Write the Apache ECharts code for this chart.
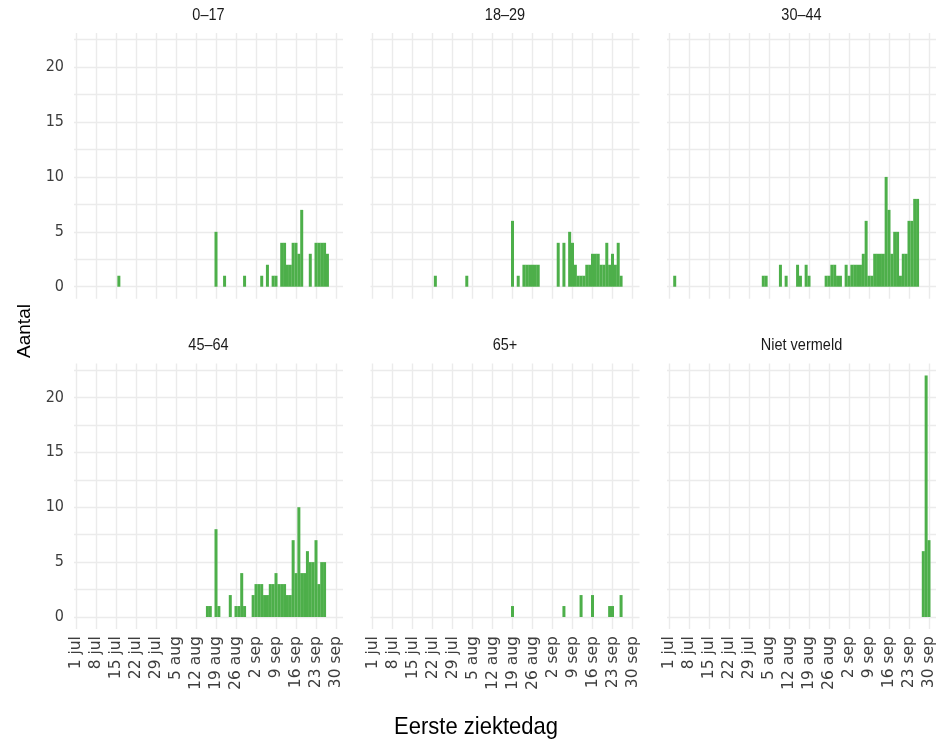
<!DOCTYPE html>
<html><head><meta charset="utf-8">
<script src="https://cdn.jsdelivr.net/npm/echarts@6/dist/echarts.min.js"></script>
<style>html,body{margin:0;padding:0;background:#fff}#c{width:939px;height:741px}</style>
</head><body><div id="c"></div>
<script>
// ---- data ----
const panelTitles = ['0–17', '18–29', '30–44', '45–64', '65+', 'Niet vermeld'];
const tickDates = ['07-01','07-08','07-15','07-22','07-29','08-05','08-12','08-19','08-26','09-02','09-09','09-16','09-23','09-30'];
const tickLabels = ['1 jul','8 jul','15 jul','22 jul','29 jul','5 aug','12 aug','19 aug','26 aug','2 sep','9 sep','16 sep','23 sep','30 sep'];
const yLabelValues = [0, 5, 10, 15, 20];
const yGridValues = [0, 2.5, 5, 7.5, 10, 12.5, 15, 17.5, 20, 22.5];

const s0_17 = [['07-16',1],['08-19',5],['08-22',1],['08-29',1],['09-04',1],['09-06',2],['09-08',1],['09-09',1],
  ['09-11',4],['09-12',4],['09-13',2],['09-14',2],['09-15',4],['09-16',4],['09-17',3],['09-18',7],
  ['09-21',3],['09-23',4],['09-24',4],['09-25',4],['09-26',4],['09-27',3]];
const s18_29 = [['07-23',1],['08-03',1],['08-19',6],['08-21',1],['08-23',2],['08-24',2],['08-25',2],['08-26',2],['08-27',2],['08-28',2],
  ['09-04',4],['09-06',4],['09-08',5],['09-09',4],['09-10',2],['09-11',1],['09-12',1],['09-13',1],['09-14',2],['09-15',2],
  ['09-16',3],['09-17',3],['09-18',3],['09-19',2],['09-20',2],['09-21',4],['09-22',2],['09-23',3],['09-24',2],['09-25',4],['09-26',1]];
const s30_44 = [['07-03',1],['08-03',1],['08-04',1],['08-09',2],['08-11',1],['08-15',2],['08-16',1],['08-18',2],['08-19',1],
  ['08-25',1],['08-26',1],['08-27',2],['08-28',2],['08-29',1],['08-30',1],['09-01',2],['09-02',1],['09-03',2],['09-04',2],['09-05',2],
  ['09-06',2],['09-07',3],['09-08',6],['09-09',1],['09-10',1],['09-11',3],['09-12',3],['09-13',3],['09-14',3],['09-15',10],
  ['09-16',7],['09-17',3],['09-18',5],['09-19',5],['09-20',1],['09-21',3],['09-22',3],['09-23',6],['09-24',6],['09-25',8],['09-26',8]];
const s45_64 = [['08-16',1],['08-17',1],['08-19',8],['08-20',1],['08-24',2],['08-26',1],['08-27',1],['08-28',4],['08-29',1],
  ['09-01',2],['09-02',3],['09-03',3],['09-04',3],['09-05',2],['09-06',2],['09-07',3],['09-08',3],['09-09',4],['09-10',3],
  ['09-11',3],['09-12',3],['09-13',2],['09-14',2],['09-15',7],['09-16',4],['09-17',10],['09-18',4],['09-19',4],['09-20',6],
  ['09-21',5],['09-22',5],['09-23',7],['09-24',3],['09-25',5],['09-26',5]];
const s65plus = [['08-19',1],['09-06',1],['09-12',2],['09-16',2],['09-22',1],['09-23',1],['09-26',2]];
const sNietVermeld = [['09-28',6],['09-29',22],['09-30',7]];

const seriesData = [s0_17, s18_29, s30_44, s45_64, s65plus, sNietVermeld];

// ---- helpers ----
function dayIndex(md) {
  const [m, d] = md.split('-').map(Number);
  return (m === 7 ? 0 : m === 8 ? 31 : 62) + d - 1;
}
const tickValues = tickDates.map(dayIndex);

// ---- layout ----
const colLeft = [74, 370.5, 667];
const panelW = 269;
const rowTop = [33.1, 363.4];
const panelH = 265.7;
const GRID = '#ebebeb';
const BAR = '#4daf4a';
const TICK_COLOR = '#3d3d3d';

const grids = [], xAxes = [], yAxes = [], series = [], graphics = [];
for (let i = 0; i < 6; i++) {
  const r = Math.floor(i / 3), c = i % 3;
  grids.push({ left: colLeft[c], top: rowTop[r], width: panelW, height: panelH, containLabel: false });
  xAxes.push({
    type: 'value', gridIndex: i, min: -0.7, max: 93.45,
    axisLine: { show: false },
    axisTick: { show: false, customValues: tickValues },
    axisLabel: {
      show: r === 1, customValues: tickValues, rotate: 90, margin: 7,
      fontFamily: '"DejaVu Sans", sans-serif', fontSize: 15.5, color: TICK_COLOR,
      formatter: v => tickLabels[tickValues.indexOf(v)]
    },
    splitLine: { show: true, lineStyle: { color: GRID, width: 1.4 } }
  });
  yAxes.push({
    type: 'value', gridIndex: i, min: -1.1, max: 23.1,
    axisLine: { show: false },
    axisTick: { show: false, customValues: yGridValues },
    axisLabel: {
      show: c === 0, customValues: yLabelValues, margin: 10,
      fontFamily: '"Liberation Sans Narrow", "DejaVu Sans Condensed", sans-serif', fontSize: 16, color: TICK_COLOR
    },
    splitLine: { show: true, lineStyle: { color: GRID, width: 1.4 } }
  });
  series.push({
    type: 'bar', xAxisIndex: i, yAxisIndex: i, barWidth: 3, silent: true,
    itemStyle: { color: BAR },
    data: seriesData[i].map(([md, v]) => [dayIndex(md), v])
  });
  graphics.push({
    type: 'text', x: colLeft[c] + panelW / 2, y: rowTop[r] - 18, scaleY: 1.2,
    style: { text: panelTitles[i], fill: '#1a1a1a', font: '14.5px "Liberation Sans", Arial, sans-serif',
      textAlign: 'center', textVerticalAlign: 'middle' }
  });
}
graphics.push({
  type: 'text', x: 25, y: 331, rotation: Math.PI / 2,
  style: { text: 'Aantal', fill: '#000', font: '19px "Liberation Sans", Arial, sans-serif',
    textAlign: 'center', textVerticalAlign: 'middle' }
});
graphics.push({
  type: 'text', x: 476, y: 727, scaleY: 1.1,
  style: { text: 'Eerste ziektedag', fill: '#000', font: '22px "Liberation Sans", Arial, sans-serif',
    textAlign: 'center', textVerticalAlign: 'middle' }
});

const chart = echarts.init(document.getElementById('c'), null, { renderer: 'canvas' });
chart.setOption({
  animation: false,
  backgroundColor: '#fff',
  grid: grids, xAxis: xAxes, yAxis: yAxes, series: series, graphic: graphics
});
</script></body></html>
